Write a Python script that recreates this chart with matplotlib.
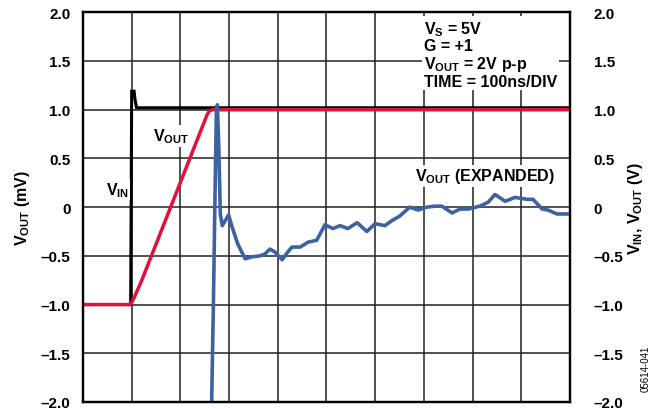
import matplotlib
matplotlib.use("Agg")
import matplotlib.pyplot as plt

plt.rcParams["font.family"] = ["Liberation Sans", "DejaVu Sans"]
plt.rcParams["font.weight"] = "bold"
plt.rcParams["mathtext.fontset"] = "custom"
plt.rcParams["mathtext.rm"] = "Liberation Sans:bold"
plt.rcParams["mathtext.it"] = "Liberation Sans:bold"
plt.rcParams["mathtext.bf"] = "Liberation Sans:bold"

# time in divisions (100ns/DIV)
vin_t = [0.0, 0.98, 1.0, 1.05, 1.07, 1.1, 10.0]
vin_v = [-1.0, -1.0, 1.19, 1.19, 1.1, 1.02, 1.02]

vout_t = [0.0, 0.98, 1.05, 1.2, 2.55, 2.6, 2.66, 10.0]
vout_v = [-1.0, -1.0, -0.93, -0.76, 0.95, 0.99, 1.0, 1.0]

exp_t = [2.64, 2.68, 2.71, 2.74, 2.76, 2.79, 2.82, 2.86, 2.92, 2.99, 3.06, 3.18,
         3.33, 3.47, 3.63, 3.74, 3.84, 3.94, 4.09, 4.19, 4.29, 4.46, 4.62, 4.80,
         4.97, 5.13, 5.28, 5.44, 5.63, 5.83, 6.00, 6.20, 6.34, 6.51, 6.71, 6.88,
         7.06, 7.23, 7.37, 7.58, 7.74, 7.91, 8.15, 8.32, 8.46, 8.67, 8.87, 9.12,
         9.24, 9.43, 9.55, 9.73, 9.96]
exp_v = [-2.07, -0.94, 0.08, 0.99, 1.05, 0.60, -0.07, -0.19, -0.14, -0.08, -0.20, -0.38,
         -0.53, -0.51, -0.50, -0.48, -0.43, -0.46, -0.54, -0.47, -0.41, -0.41, -0.36, -0.34,
         -0.18, -0.22, -0.19, -0.22, -0.16, -0.25, -0.17, -0.19, -0.14, -0.09, 0.00, -0.03,
         0.00, 0.01, 0.01, -0.06, -0.02, -0.02, 0.01, 0.05, 0.13, 0.06, 0.10, 0.08,
         0.08, -0.02, -0.03, -0.07, -0.07]

y_ticks = [-2.0, -1.5, -1.0, -0.5, 0.0, 0.5, 1.0, 1.5, 2.0]
y_labels = ["\u20132.0", "\u20131.5", "\u20131.0", "\u20130.5", "0", "0.5", "1.0", "1.5", "2.0"]

fig = plt.figure(figsize=(6.57, 4.10), dpi=100)
ax = fig.add_axes([0.1263, 0.0171, 0.7412, 0.9505])

ax.plot(vin_t, vin_v, color="black", lw=2.2, solid_joinstyle="miter", zorder=3)
ax.plot(vout_t, vout_v, color="#E2103C", lw=2.5, zorder=4)
ax.plot(exp_t, exp_v, color="#3D62A3", lw=2.6, zorder=5)

ax.set_xlim(0, 10)
ax.set_ylim(-2, 2)
ax.set_xticks(range(11))
ax.set_xticklabels([])
ax.set_yticks(y_ticks)
ax.set_yticklabels(y_labels, fontsize=11, fontweight="bold")
ax.tick_params(length=0, pad=9)
ax.grid(True, color="#222222", lw=1.1)
for s in ax.spines.values():
    s.set_linewidth(1.6)

ax2 = ax.twinx()
ax2.set_ylim(-2, 2)
ax2.set_yticks(y_ticks)
ax2.set_yticklabels(y_labels, fontsize=11, fontweight="bold")
ax2.tick_params(length=0, pad=17)
for s in ax2.spines.values():
    s.set_linewidth(1.6)

ax.set_ylabel("$V_{OUT}$ (mV)", fontsize=11.5, fontweight="bold", labelpad=6)
ax2.set_ylabel("$V_{IN}$, $V_{OUT}$ (V)", fontsize=11.5, fontweight="bold", labelpad=2)

box = dict(facecolor="white", edgecolor="none", pad=1)
ax.text(0.7, 0.18, "$V_{IN}$", fontsize=11.5, ha="center", va="center", bbox=box, zorder=6)
ax.text(1.8, 0.73, "$V_{OUT}$", fontsize=11.5, ha="center", va="center", bbox=box, zorder=6)
ax.text(8.26, 0.32, "$V_{OUT}$ (EXPANDED)", fontsize=11.5, ha="center", va="center", bbox=box, zorder=6)
ax.text(7.0, 1.93, "$V_S$ = 5V\nG = +1\n$V_{OUT}$ = 2V p-p\nTIME = 100ns/DIV",
        fontsize=11.5, ha="left", va="top", linespacing=1.05, bbox=box, zorder=6)

fig.text(0.982, 0.10, "05614-041", rotation=90, fontsize=7, fontweight="normal",
         ha="center", va="center")

fig.savefig("out.png", dpi=100)
